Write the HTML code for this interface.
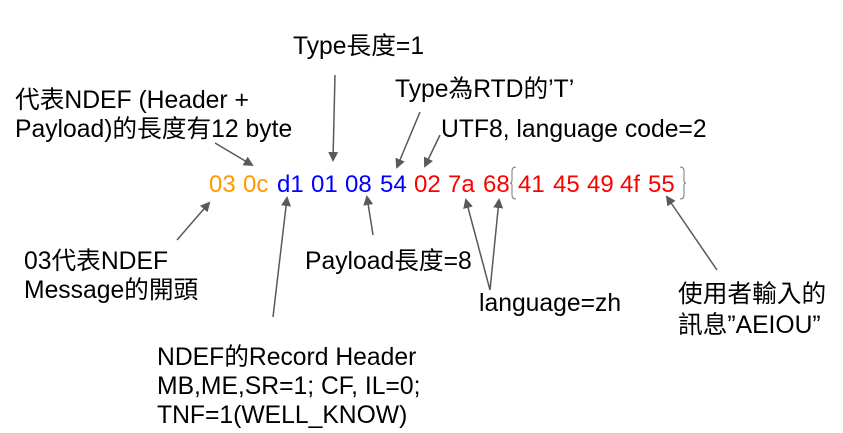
<!DOCTYPE html>
<html><head><meta charset="utf-8"><style>
html,body{margin:0;padding:0;background:#fff;}
svg{display:block}
text{font-family:"Liberation Sans","Noto Sans CJK TC",sans-serif;font-size:24.7px;fill:#000}
.h{font-size:24px}
</style></head><body>
<svg width="843" height="433" viewBox="0 0 843 433" xmlns="http://www.w3.org/2000/svg">
<defs><marker id="a" markerWidth="10" markerHeight="10" refX="8" refY="5" orient="auto" markerUnits="userSpaceOnUse"><path d="M0,0 L10,5 L0,10 z" fill="#595959"/></marker></defs>
<text x="293" y="54">Type長度=1</text>
<text x="395" y="97">Type為RTD的’T’</text>
<text x="15" y="108">代表NDEF (Header +</text>
<text x="15" y="137">Payload)的長度有12 byte</text>
<text x="441" y="137">UTF8, language code=2</text>
<text x="24" y="269">03代表NDEF</text>
<text x="24" y="298">Message的開頭</text>
<text x="305" y="269">Payload長度=8</text>
<text x="479" y="311">language=zh</text>
<text x="678" y="302">使用者輸入的</text>
<text x="678" y="333">訊息”AEIOU”</text>
<text x="157" y="365">NDEF的Record Header</text>
<text x="157" y="394">MB,ME,SR=1; CF, IL=0;</text>
<text x="157" y="423">TNF=1(WELL_KNOW)</text>
<g>
<text class="h" x="209" y="192" style="fill:#ff9900">03</text>
<text class="h" x="243" y="192" style="fill:#ff9900">0c</text>
<text class="h" x="277" y="192" style="fill:#0000ff">d1</text>
<text class="h" x="311" y="192" style="fill:#0000ff">01</text>
<text class="h" x="345" y="192" style="fill:#0000ff">08</text>
<text class="h" x="380" y="192" style="fill:#0000ff">54</text>
<text class="h" x="414" y="192" style="fill:#ff0000">02</text>
<text class="h" x="448" y="192" style="fill:#ff0000">7a</text>
<text class="h" x="483" y="192" style="fill:#ff0000">68</text>
<text class="h" x="518" y="192" style="fill:#ff0000">41</text>
<text class="h" x="553" y="192" style="fill:#ff0000">45</text>
<text class="h" x="587" y="192" style="fill:#ff0000">49</text>
<text class="h" x="620" y="192" style="fill:#ff0000">4f</text>
<text class="h" x="648" y="192" style="fill:#ff0000">55</text>
</g>
<path d="M516,167 Q512,167 512,171 L512,180 Q512,183 510,183 Q512,183 512,186 L512,195 Q512,199 516,199" fill="none" stroke="#777" stroke-width="1"/>
<path d="M680,167 Q684,167 684,171 L684,180 Q684,183 686,183 Q684,183 684,186 L684,195 Q684,199 680,199" fill="none" stroke="#777" stroke-width="1"/>
<g stroke="#595959" stroke-width="1.5" fill="none" marker-end="url(#a)">
<line x1="215" y1="143" x2="252" y2="165"/>
<line x1="335" y1="75" x2="333" y2="160"/>
<line x1="420" y1="112" x2="397" y2="167"/>
<line x1="440" y1="135" x2="425" y2="166"/>
<line x1="177" y1="240" x2="209" y2="203"/>
<line x1="273" y1="317" x2="287" y2="198"/>
<line x1="373" y1="235" x2="367" y2="197"/>
<line x1="490" y1="290" x2="466" y2="200"/>
<line x1="490" y1="290" x2="499" y2="200"/>
<line x1="717" y1="270" x2="667" y2="197"/>
</g>
</svg>
</body></html>
